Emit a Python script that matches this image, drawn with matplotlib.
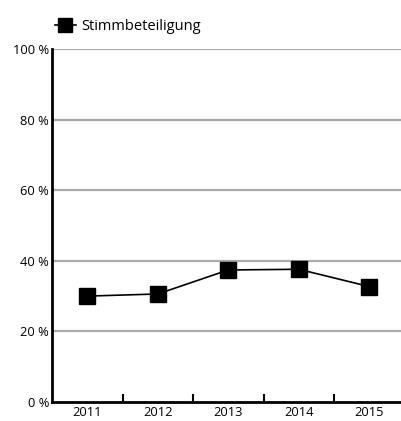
import matplotlib
matplotlib.use('Agg')
import matplotlib.pyplot as plt
import numpy as np

jahre = ['2011', '2012', '2013', '2014', '2015']
beteiligung = [30.0, 30.6, 37.4, 37.6, 32.7]
y_ticks = [0, 20, 40, 60, 80, 100]
y_labels = ['0 %', '20 %', '40 %', '60 %', '80 %', '100 %']

plt.rcParams['font.family'] = ['Open Sans', 'DejaVu Sans']

fig = plt.figure(figsize=(4.01, 4.21), dpi=100)
ax = fig.add_axes([52/401, 19/421, 1 - 52/401, 353/421])

x = np.arange(len(jahre))
ax.plot(x, beteiligung, color='black', lw=1.2, marker='s', markersize=11.5,
        label='Stimmbeteiligung', clip_on=False, zorder=3)

ax.set_xlim(-0.5, 4.45)
ax.set_ylim(0, 100)
ax.set_yticks(y_ticks)
ax.set_yticklabels(y_labels, fontsize=9.3)
ax.tick_params(axis='y', length=0, pad=2)
for yv in y_ticks[1:]:
    ax.axhline(yv, color='#aaaaaa', lw=1.6, zorder=1)

ax.set_xticks(x)
ax.set_xticklabels(jahre, fontsize=9.3)
ax.tick_params(axis='x', which='major', length=0, pad=3)
ax.set_xticks(x[:-1] + 0.5, minor=True)
ax.tick_params(axis='x', which='minor', direction='in', length=6, width=1.5, color='black')

for s in ['top', 'right']:
    ax.spines[s].set_visible(False)
ax.spines['left'].set_linewidth(2)
ax.spines['bottom'].set_linewidth(2)
ax.spines['left'].set_zorder(4)
ax.spines['bottom'].set_zorder(4)

leg = fig.legend(loc='upper left', bbox_to_anchor=(42/401, 1 - 6/421), frameon=False,
                 fontsize=10.5, handlelength=1.4, handletextpad=0.4, markerscale=0.85)

fig.savefig('out.png', dpi=100)
